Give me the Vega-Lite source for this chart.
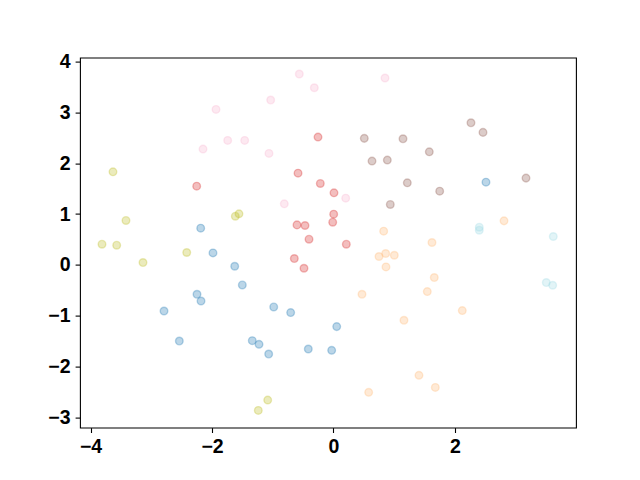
{
  "$schema": "https://vega.github.io/schema/vega-lite/v6.json",
  "width": 496,
  "height": 370,
  "autosize": {"type": "none"},
  "padding": {"left": 80, "top": 57.6, "right": 64, "bottom": 52.4},
  "background": "white",
  "config": {
    "view": {"stroke": "black", "strokeWidth": 1.1},
    "axis": {
      "domain": false,
      "grid": false,
      "ticks": true,
      "tickColor": "black",
      "tickSize": 4.9,
      "tickWidth": 1.1,
      "labelFont": "Liberation Sans",
      "labelFontWeight": "bold",
      "labelFontSize": 19.5,
      "labelColor": "black",
      "labelPadding": 5,
      "labelFlush": false,
      "labelOverlap": false,
      "title": null
    }
  },
  "data": {
    "values": [
      {"x": -2.186, "y": 0.722, "g": 0},
      {"x": 2.510, "y": 1.629, "g": 0},
      {"x": -1.984, "y": 0.235, "g": 0},
      {"x": -1.626, "y": -0.028, "g": 0},
      {"x": -1.501, "y": -0.396, "g": 0},
      {"x": -2.247, "y": -0.580, "g": 0},
      {"x": -2.181, "y": -0.712, "g": 0},
      {"x": -2.790, "y": -0.909, "g": 0},
      {"x": -0.984, "y": -0.830, "g": 0},
      {"x": -0.705, "y": -0.941, "g": 0},
      {"x": -2.538, "y": -1.501, "g": 0},
      {"x": -1.337, "y": -1.493, "g": 0},
      {"x": -1.226, "y": -1.566, "g": 0},
      {"x": -1.067, "y": -1.757, "g": 0},
      {"x": -0.415, "y": -1.658, "g": 0},
      {"x": 0.053, "y": -1.217, "g": 0},
      {"x": -0.030, "y": -1.684, "g": 0},
      {"x": 0.826, "y": 0.663, "g": 1},
      {"x": 1.621, "y": 0.440, "g": 1},
      {"x": 2.807, "y": 0.866, "g": 1},
      {"x": 0.749, "y": 0.164, "g": 1},
      {"x": 0.859, "y": 0.223, "g": 1},
      {"x": 1.001, "y": 0.189, "g": 1},
      {"x": 0.864, "y": -0.041, "g": 1},
      {"x": 1.659, "y": -0.250, "g": 1},
      {"x": 0.469, "y": -0.580, "g": 1},
      {"x": 1.544, "y": -0.527, "g": 1},
      {"x": 2.120, "y": -0.901, "g": 1},
      {"x": 1.160, "y": -1.092, "g": 1},
      {"x": 1.407, "y": -2.177, "g": 1},
      {"x": 1.676, "y": -2.414, "g": 1},
      {"x": 0.579, "y": -2.512, "g": 1},
      {"x": -0.255, "y": 2.516, "g": 2},
      {"x": -0.584, "y": 1.806, "g": 2},
      {"x": -0.217, "y": 1.603, "g": 2},
      {"x": -2.252, "y": 1.550, "g": 2},
      {"x": -0.601, "y": 0.787, "g": 2},
      {"x": -0.469, "y": 0.775, "g": 2},
      {"x": -0.403, "y": 0.505, "g": 2},
      {"x": 0.008, "y": 1.418, "g": 2},
      {"x": 0.003, "y": 0.998, "g": 2},
      {"x": -0.013, "y": 0.840, "g": 2},
      {"x": 0.211, "y": 0.406, "g": 2},
      {"x": -0.645, "y": 0.124, "g": 2},
      {"x": -0.486, "y": -0.067, "g": 2},
      {"x": 2.263, "y": 2.798, "g": 3},
      {"x": 2.461, "y": 2.609, "g": 3},
      {"x": 0.507, "y": 2.491, "g": 3},
      {"x": 1.144, "y": 2.483, "g": 3},
      {"x": 1.577, "y": 2.226, "g": 3},
      {"x": 0.634, "y": 2.043, "g": 3},
      {"x": 0.886, "y": 2.063, "g": 3},
      {"x": 1.215, "y": 1.615, "g": 3},
      {"x": 3.169, "y": 1.708, "g": 3},
      {"x": 1.748, "y": 1.451, "g": 3},
      {"x": 0.935, "y": 1.189, "g": 3},
      {"x": -0.563, "y": 3.759, "g": 4},
      {"x": -0.316, "y": 3.488, "g": 4},
      {"x": 0.848, "y": 3.680, "g": 4},
      {"x": -1.934, "y": 3.062, "g": 4},
      {"x": -1.034, "y": 3.246, "g": 4},
      {"x": -1.742, "y": 2.451, "g": 4},
      {"x": -1.462, "y": 2.451, "g": 4},
      {"x": -2.148, "y": 2.280, "g": 4},
      {"x": -1.062, "y": 2.195, "g": 4},
      {"x": -0.810, "y": 1.201, "g": 4},
      {"x": 0.201, "y": 1.313, "g": 4},
      {"x": -3.630, "y": 1.832, "g": 5},
      {"x": -3.416, "y": 0.874, "g": 5},
      {"x": -1.616, "y": 0.958, "g": 5},
      {"x": -1.556, "y": 1.004, "g": 5},
      {"x": -3.811, "y": 0.406, "g": 5},
      {"x": -3.569, "y": 0.387, "g": 5},
      {"x": -2.416, "y": 0.243, "g": 5},
      {"x": -3.136, "y": 0.045, "g": 5},
      {"x": -1.083, "y": -2.664, "g": 5},
      {"x": -1.238, "y": -2.867, "g": 5},
      {"x": 2.400, "y": 0.741, "g": 6},
      {"x": 2.400, "y": 0.682, "g": 6},
      {"x": 3.618, "y": 0.558, "g": 6},
      {"x": 3.503, "y": -0.349, "g": 6},
      {"x": 3.608, "y": -0.402, "g": 6}
    ]
  },
  "mark": {"type": "point", "shape": "circle", "filled": true, "size": 58, "fillOpacity": 0.3, "strokeOpacity": 0.3, "strokeWidth": 1.4},
  "encoding": {
    "x": {"field": "x", "type": "quantitative", "scale": {"domain": [-4.173, 3.992], "nice": false, "zero": false}, "axis": {"values": [-4, -2, 0, 2]}},
    "y": {"field": "y", "type": "quantitative", "scale": {"domain": [-3.206, 4.082], "nice": false, "zero": false}, "axis": {"values": [-3, -2, -1, 0, 1, 2, 3, 4]}},
    "fill": {"field": "g", "type": "nominal", "legend": null, "scale": {"domain": [0, 1, 2, 3, 4, 5, 6], "range": ["#1f77b4", "#ffbb78", "#d62728", "#8c564b", "#f7b6d2", "#bcbd22", "#9edae5"]}},
    "stroke": {"field": "g", "type": "nominal", "legend": null, "scale": {"domain": [0, 1, 2, 3, 4, 5, 6], "range": ["#1f77b4", "#ffbb78", "#d62728", "#8c564b", "#f7b6d2", "#bcbd22", "#9edae5"]}}
  }
}
